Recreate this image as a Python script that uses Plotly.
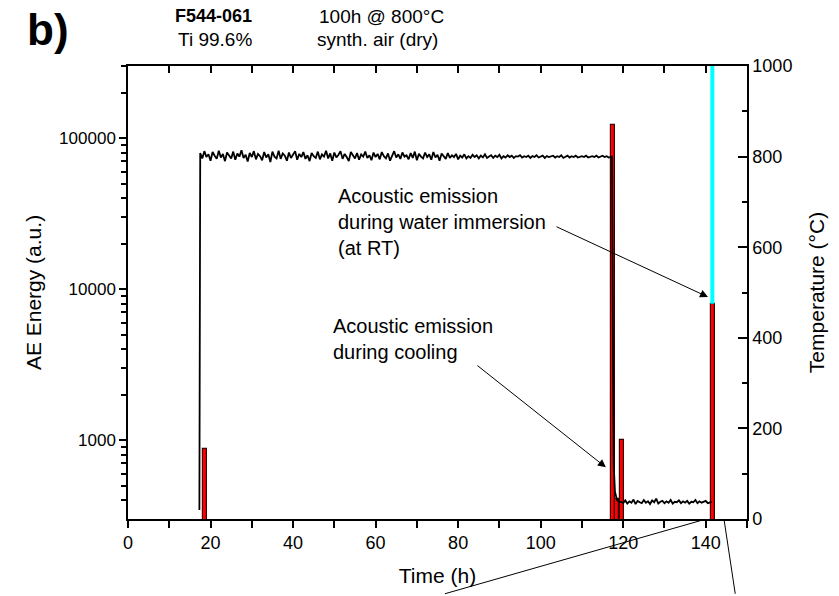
import numpy as np
import plotly.graph_objects as go

# --- AE energy events (bars, log axis) ---
ae_time = [18.6, 117.6, 118.6, 119.8, 141.8]
ae_energy = [870, 122000, 410, 1000, 8000]

# --- immersion signal above the last AE event ---
imm_time = [141.6, 141.6]
imm_energy = [8000, 300000]

# --- temperature record ---
heat_time = [17.3, 17.35]
heat_temp = [20, 800]

hold_time = list(np.arange(17.5, 117.01, 0.5))
hold_temp = [
    808, 796, 812, 799, 805, 791, 810, 802, 795, 813,
    798, 806, 790, 809, 801, 796, 811, 793, 807, 800,
    814, 797, 804, 789, 808, 799, 812, 794, 806, 801,
    792, 810, 798, 805, 788, 811, 800, 796, 813, 795,
    807, 802, 791, 809, 797, 804, 812, 793, 806, 799,
    810, 795, 803, 790, 808, 801, 797, 811, 794, 805,
    800, 813, 796, 807, 791, 809, 798, 804, 812, 795,
    806, 799, 790, 810, 802, 796, 808, 793, 805, 800,
    811, 797, 803, 792, 809, 799, 806, 794, 810, 801,
    796, 807, 791, 804, 812, 798, 805, 795, 809, 800,
    803, 794, 808, 797, 811, 792, 806, 800, 796, 809,
    799, 805, 793, 810, 798, 804, 791, 807, 801, 795,
    808, 797, 803, 799, 806, 794, 802, 798, 805, 796,
    801, 797, 804, 799, 803, 796, 802, 798, 805, 797,
    800, 803, 797, 802, 799, 804, 796, 801, 798, 803,
    799, 802, 797, 801, 800, 803, 798, 801, 799, 802,
    797, 801, 799, 803, 798, 800, 802, 797, 801, 799,
    800, 802, 798, 801, 799, 803, 797, 800, 802, 798,
    801, 799, 802, 798, 800, 801, 799, 802, 798, 800,
    801, 799, 802, 798, 800, 802, 799, 801, 798, 800,
]

cool_time = [117.3, 117.5, 117.7, 118.0, 118.5, 119.0]
cool_temp = [800, 400, 120, 60, 42, 38]

rt_time = list(np.arange(119.5, 141.51, 0.5))
rt_temp = [
    38, 35, 41, 34, 39, 36, 43, 33, 40, 37,
    35, 42, 36, 39, 33, 41, 37, 45, 34, 38,
    40, 35, 39, 36, 42, 34, 38, 37, 41, 35,
    39, 36, 40, 34, 38, 37, 42, 35, 39, 36,
    38, 40, 35, 37, 38,
]

temp_time = heat_time + hold_time + cool_time + rt_time
temp_vals = heat_temp + hold_temp + cool_temp + rt_temp

# axis ticks
x_major = [0, 20, 40, 60, 80, 100, 120, 140]
y_major = [1000, 10000, 100000]
y_major_text = ["1000", "10000", "100000"]
y_minor = [400, 500, 600, 700, 800, 900,
           2000, 3000, 4000, 5000, 6000, 7000, 8000, 9000,
           20000, 30000, 40000, 50000, 60000, 70000, 80000, 90000,
           200000, 300000]

FONT = "Liberation Sans, Arial, sans-serif"

fig = go.Figure()

fig.add_trace(go.Bar(
    x=ae_time, y=ae_energy, width=1.0,
    marker=dict(color="#ff0000", line=dict(color="#3a0000", width=1.2)),
    xaxis="x", yaxis="y", showlegend=False,
))
fig.add_trace(go.Scatter(
    x=imm_time, y=imm_energy, mode="lines",
    line=dict(color="#00ffff", width=4),
    xaxis="x", yaxis="y", showlegend=False,
))
fig.add_trace(go.Scatter(
    x=temp_time, y=temp_vals, mode="lines",
    line=dict(color="black", width=1.8),
    xaxis="x", yaxis="y2", showlegend=False,
))
# carrier trace for the top tick axis
fig.add_trace(go.Scatter(
    x=[None], y=[None], xaxis="x2", yaxis="y", showlegend=False,
    hoverinfo="skip",
))

axis_line = dict(showline=True, linecolor="black", linewidth=1.5,
                 showgrid=False, zeroline=False)

fig.update_layout(
    width=839, height=596,
    margin=dict(l=128, r=92, t=66, b=75),
    paper_bgcolor="white", plot_bgcolor="white",
    font=dict(family=FONT, color="black", size=18),
    bargap=0,
    xaxis=dict(
        range=[0, 150], tickvals=x_major,
        ticks="outside", ticklen=7, tickwidth=1.5, tickcolor="black",
        minor=dict(dtick=10, tick0=0, ticks="outside", ticklen=7,
                   tickwidth=1.5, tickcolor="black"),
        tickfont=dict(size=18),
        title=dict(text="Time (h)", font=dict(size=21), standoff=16),
        **axis_line,
    ),
    xaxis2=dict(
        range=[0, 150], overlaying="x", side="top",
        dtick=10, tick0=0, ticks="inside", ticklen=7, tickwidth=1.5,
        tickcolor="black", showticklabels=False,
        **axis_line,
    ),
    yaxis=dict(
        type="log", range=[np.log10(300), np.log10(300000)],
        tickvals=y_major, ticktext=y_major_text,
        ticks="outside", ticklen=7, tickwidth=1.5, tickcolor="black",
        minor=dict(tickvals=y_minor, ticks="outside", ticklen=5,
                   tickwidth=1.5, tickcolor="black"),
        tickfont=dict(size=17),
        title=dict(text="AE Energy (a.u.)", font=dict(size=21), standoff=12),
        **axis_line,
    ),
    yaxis2=dict(
        range=[0, 1000], overlaying="y", side="right",
        dtick=200, tick0=0, ticks="inside", ticklen=9, tickwidth=1.5,
        tickcolor="black",
        minor=dict(dtick=100, tick0=0, ticks="inside", ticklen=5,
                   tickwidth=1.5, tickcolor="black"),
        tickfont=dict(size=18),
        title=dict(text="Temperature (°C)", font=dict(size=21), standoff=18),
        **axis_line,
    ),
)

# header texts
fig.add_annotation(xref="paper", yref="paper", x=-0.166, y=1.08,
                   xanchor="left", yanchor="middle", showarrow=False,
                   text="<b>b)</b>", font=dict(size=44))
fig.add_annotation(xref="paper", yref="paper", x=0.073, y=1.11,
                   xanchor="left", yanchor="middle", showarrow=False,
                   text="<b>F544-061</b>", font=dict(size=18))
fig.add_annotation(xref="paper", yref="paper", x=0.077, y=1.058,
                   xanchor="left", yanchor="middle", showarrow=False,
                   text="Ti 99.6%", font=dict(size=19))
fig.add_annotation(xref="paper", yref="paper", x=0.305, y=1.11,
                   xanchor="left", yanchor="middle", showarrow=False,
                   text="100h @ 800°C", font=dict(size=19))
fig.add_annotation(xref="paper", yref="paper", x=0.302, y=1.058,
                   xanchor="left", yanchor="middle", showarrow=False,
                   text="synth. air (dry)", font=dict(size=19))

# callout labels
fig.add_annotation(xref="paper", yref="paper", x=0.336, y=0.742,
                   xanchor="left", yanchor="top", showarrow=False, align="left",
                   text="Acoustic emission<br>during water immersion<br>(at RT)",
                   font=dict(size=20))
fig.add_annotation(xref="paper", yref="paper", x=0.328, y=0.455,
                   xanchor="left", yanchor="top", showarrow=False, align="left",
                   text="Acoustic emission<br>during cooling",
                   font=dict(size=20))

# arrows
fig.add_annotation(xref="paper", yref="paper", x=0.937, y=0.49,
                   ax=-153, ay=-71, text="", showarrow=True,
                   arrowhead=2, arrowsize=1.6, arrowwidth=1, arrowcolor="black")
fig.add_annotation(xref="paper", yref="paper", x=0.772, y=0.114,
                   ax=-130, ay=-103, text="", showarrow=True,
                   arrowhead=2, arrowsize=1.6, arrowwidth=1, arrowcolor="black")

# zoom guide lines below the axis
fig.add_shape(type="line", xref="paper", yref="paper",
              x0=0.929, y0=-0.002, x1=0.512, y1=-0.165,
              line=dict(color="black", width=1))
fig.add_shape(type="line", xref="paper", yref="paper",
              x0=0.963, y0=-0.002, x1=0.981, y1=-0.165,
              line=dict(color="black", width=1))

fig.write_html("out.html")
